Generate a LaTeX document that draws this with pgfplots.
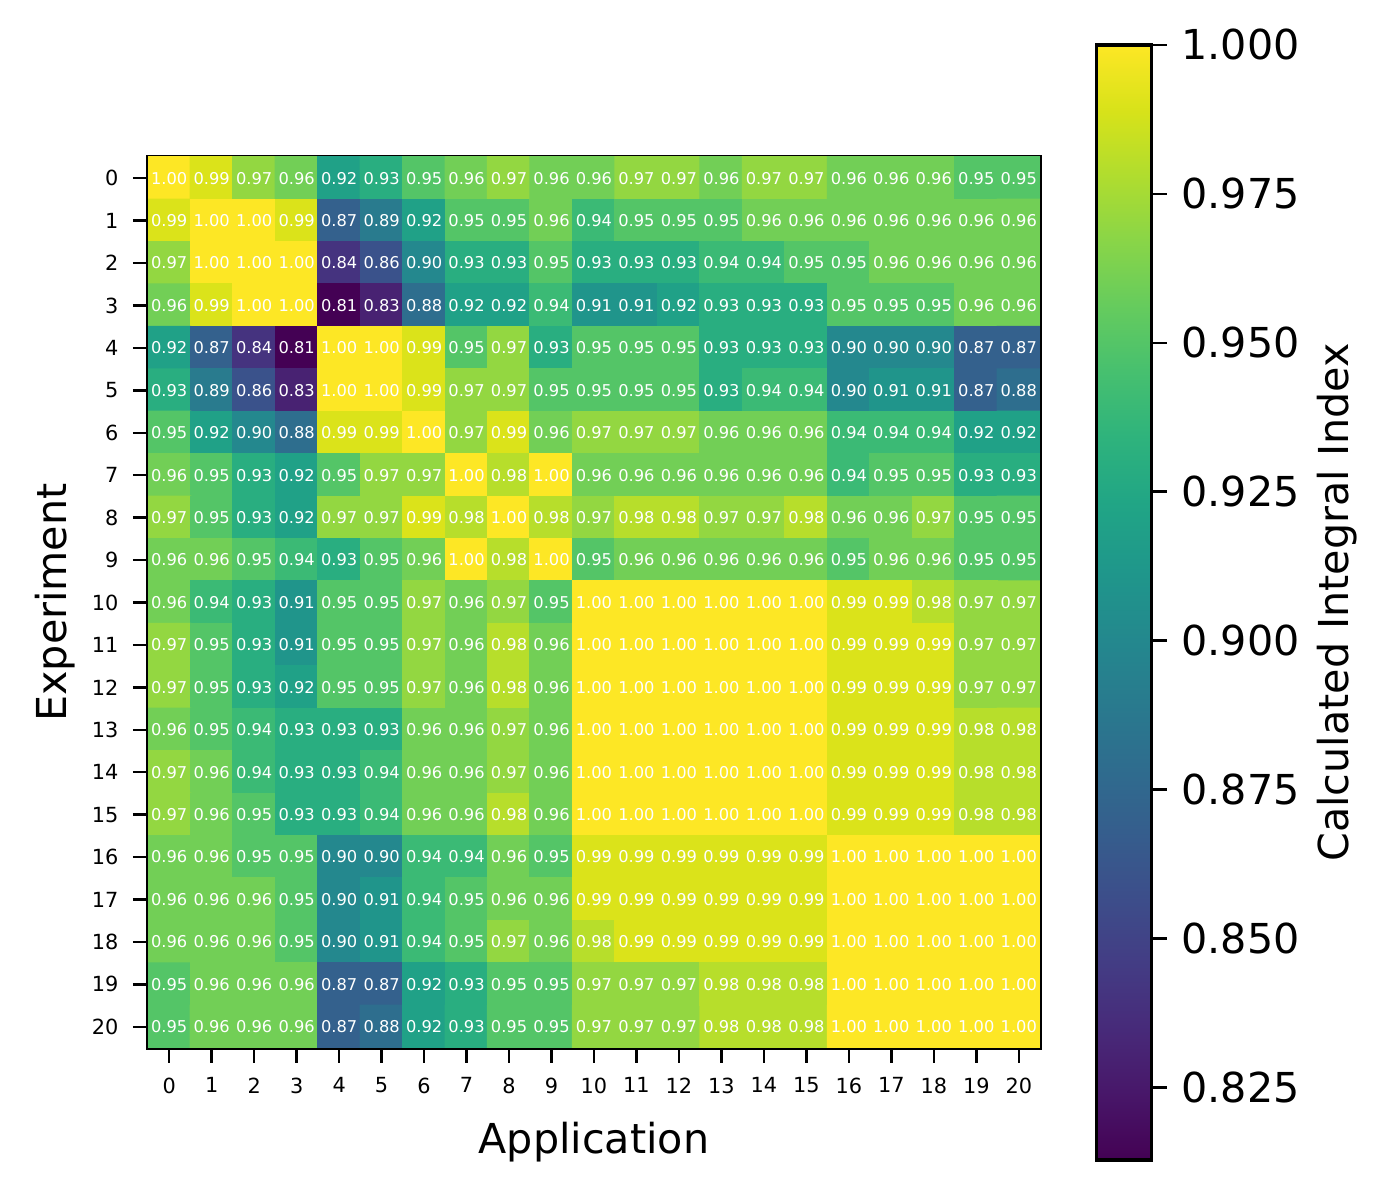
\documentclass[border=0pt]{standalone}
\usepackage{fontspec}
\setmainfont{DejaVu Sans}
\usepackage{pgfplots}
\pgfplotsset{compat=1.18}
\pgfplotsset{/pgf/number format/assume math mode=true}
\begin{document}
\begin{tikzpicture}
\path[use as bounding box] (0,0) rectangle (332.88pt,285.84pt);
\begin{axis}[
  at={(35.52pt,248.16pt)}, anchor=north west,
  scale only axis, width=214.08pt, height=213.84pt,
  xmin=-0.5, xmax=20.5, ymin=-0.5, ymax=20.5,
  y dir=reverse, enlargelimits=false,
  xtick={0,...,20}, ytick={0,...,20},
  xtick pos=bottom, ytick pos=left,
  tick align=outside, major tick length=3.6pt,
  every tick/.style={black, line width=0.6pt},
  axis line style={line width=0.8pt},
  ticklabel style={font=\fontsize{5}{6}\selectfont},
  xlabel={Application}, ylabel={Experiment},
  ylabel shift=-2.9pt,
  label style={font=\fontsize{9.9}{12}\selectfont},
  colormap/viridis,
  point meta min=0.8128, point meta max=1,
  colorbar,
  colorbar style={
    at={(parent axis.north east)}, anchor=north west,
    xshift=5.1pt, yshift=26.88pt,
    scale only axis, width=13.2pt, height=267.6pt,
    ytick={0.825,0.85,0.875,0.9,0.925,0.95,0.975,1},
    ytick pos=right, yticklabel pos=right,
    yticklabel style={font=\fontsize{9.9}{12}\selectfont,
      /pgf/number format/.cd, fixed, fixed zerofill, precision=3},
    ylabel={Calculated Integral Index},
    ylabel shift=-2.6pt,
    ylabel style={font=\fontsize{9.9}{12}\selectfont},
    tick align=outside, major tick length=3.6pt,
    every tick/.style={black, line width=0.6pt},
    axis line style={line width=0.8pt},
  },
]
\addplot[matrix plot*, mesh/cols=21, mesh/ordering=x varies, point meta=explicit,
  nodes near coords={\pgfmathprintnumber[fixed,fixed zerofill,precision=2]{\pgfplotspointmeta}},
  every node near coord/.append style={anchor=center, text=white, font=\fontsize{3.9}{4}\selectfont, inner sep=0pt},
] table[row sep=\\, header=false, x expr={mod(\coordindex,21)}, y expr={floor((\coordindex+0.5)/21)}, meta index=0] {
1.00\\0.99\\0.97\\0.96\\0.92\\0.93\\0.95\\0.96\\0.97\\0.96\\0.96\\0.97\\0.97\\0.96\\0.97\\0.97\\0.96\\0.96\\0.96\\0.95\\0.95\\
0.99\\1.00\\1.00\\0.99\\0.87\\0.89\\0.92\\0.95\\0.95\\0.96\\0.94\\0.95\\0.95\\0.95\\0.96\\0.96\\0.96\\0.96\\0.96\\0.96\\0.96\\
0.97\\1.00\\1.00\\1.00\\0.84\\0.86\\0.90\\0.93\\0.93\\0.95\\0.93\\0.93\\0.93\\0.94\\0.94\\0.95\\0.95\\0.96\\0.96\\0.96\\0.96\\
0.96\\0.99\\1.00\\1.00\\0.81\\0.83\\0.88\\0.92\\0.92\\0.94\\0.91\\0.91\\0.92\\0.93\\0.93\\0.93\\0.95\\0.95\\0.95\\0.96\\0.96\\
0.92\\0.87\\0.84\\0.81\\1.00\\1.00\\0.99\\0.95\\0.97\\0.93\\0.95\\0.95\\0.95\\0.93\\0.93\\0.93\\0.90\\0.90\\0.90\\0.87\\0.87\\
0.93\\0.89\\0.86\\0.83\\1.00\\1.00\\0.99\\0.97\\0.97\\0.95\\0.95\\0.95\\0.95\\0.93\\0.94\\0.94\\0.90\\0.91\\0.91\\0.87\\0.88\\
0.95\\0.92\\0.90\\0.88\\0.99\\0.99\\1.00\\0.97\\0.99\\0.96\\0.97\\0.97\\0.97\\0.96\\0.96\\0.96\\0.94\\0.94\\0.94\\0.92\\0.92\\
0.96\\0.95\\0.93\\0.92\\0.95\\0.97\\0.97\\1.00\\0.98\\1.00\\0.96\\0.96\\0.96\\0.96\\0.96\\0.96\\0.94\\0.95\\0.95\\0.93\\0.93\\
0.97\\0.95\\0.93\\0.92\\0.97\\0.97\\0.99\\0.98\\1.00\\0.98\\0.97\\0.98\\0.98\\0.97\\0.97\\0.98\\0.96\\0.96\\0.97\\0.95\\0.95\\
0.96\\0.96\\0.95\\0.94\\0.93\\0.95\\0.96\\1.00\\0.98\\1.00\\0.95\\0.96\\0.96\\0.96\\0.96\\0.96\\0.95\\0.96\\0.96\\0.95\\0.95\\
0.96\\0.94\\0.93\\0.91\\0.95\\0.95\\0.97\\0.96\\0.97\\0.95\\1.00\\1.00\\1.00\\1.00\\1.00\\1.00\\0.99\\0.99\\0.98\\0.97\\0.97\\
0.97\\0.95\\0.93\\0.91\\0.95\\0.95\\0.97\\0.96\\0.98\\0.96\\1.00\\1.00\\1.00\\1.00\\1.00\\1.00\\0.99\\0.99\\0.99\\0.97\\0.97\\
0.97\\0.95\\0.93\\0.92\\0.95\\0.95\\0.97\\0.96\\0.98\\0.96\\1.00\\1.00\\1.00\\1.00\\1.00\\1.00\\0.99\\0.99\\0.99\\0.97\\0.97\\
0.96\\0.95\\0.94\\0.93\\0.93\\0.93\\0.96\\0.96\\0.97\\0.96\\1.00\\1.00\\1.00\\1.00\\1.00\\1.00\\0.99\\0.99\\0.99\\0.98\\0.98\\
0.97\\0.96\\0.94\\0.93\\0.93\\0.94\\0.96\\0.96\\0.97\\0.96\\1.00\\1.00\\1.00\\1.00\\1.00\\1.00\\0.99\\0.99\\0.99\\0.98\\0.98\\
0.97\\0.96\\0.95\\0.93\\0.93\\0.94\\0.96\\0.96\\0.98\\0.96\\1.00\\1.00\\1.00\\1.00\\1.00\\1.00\\0.99\\0.99\\0.99\\0.98\\0.98\\
0.96\\0.96\\0.95\\0.95\\0.90\\0.90\\0.94\\0.94\\0.96\\0.95\\0.99\\0.99\\0.99\\0.99\\0.99\\0.99\\1.00\\1.00\\1.00\\1.00\\1.00\\
0.96\\0.96\\0.96\\0.95\\0.90\\0.91\\0.94\\0.95\\0.96\\0.96\\0.99\\0.99\\0.99\\0.99\\0.99\\0.99\\1.00\\1.00\\1.00\\1.00\\1.00\\
0.96\\0.96\\0.96\\0.95\\0.90\\0.91\\0.94\\0.95\\0.97\\0.96\\0.98\\0.99\\0.99\\0.99\\0.99\\0.99\\1.00\\1.00\\1.00\\1.00\\1.00\\
0.95\\0.96\\0.96\\0.96\\0.87\\0.87\\0.92\\0.93\\0.95\\0.95\\0.97\\0.97\\0.97\\0.98\\0.98\\0.98\\1.00\\1.00\\1.00\\1.00\\1.00\\
0.95\\0.96\\0.96\\0.96\\0.87\\0.88\\0.92\\0.93\\0.95\\0.95\\0.97\\0.97\\0.97\\0.98\\0.98\\0.98\\1.00\\1.00\\1.00\\1.00\\1.00\\
};
\end{axis}
\end{tikzpicture}
\end{document}
